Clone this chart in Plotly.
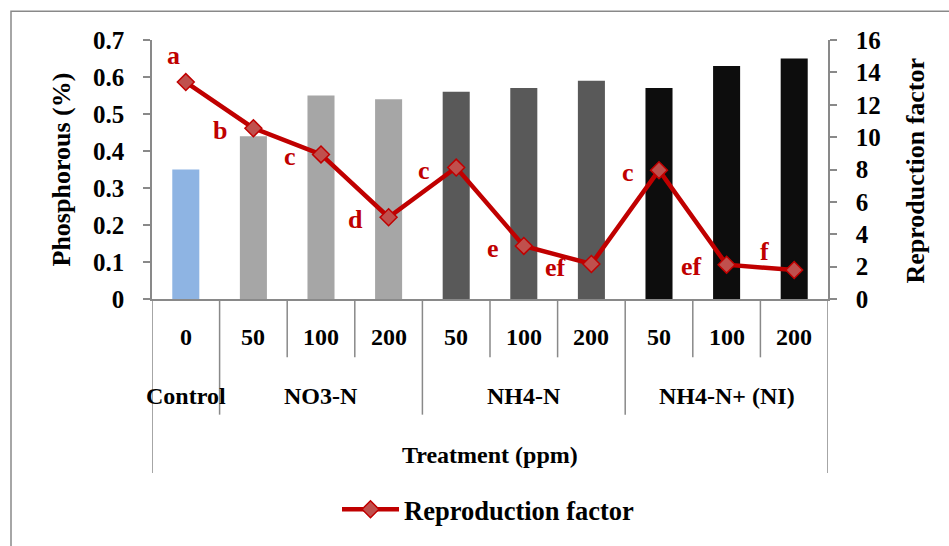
import plotly.graph_objects as go

# ---------------- data ----------------
groups = ["Control", "NO3-N", "NO3-N", "NO3-N", "NH4-N", "NH4-N", "NH4-N",
          "NH4-N+ (NI)", "NH4-N+ (NI)", "NH4-N+ (NI)"]
doses = ["0", "50", "100", "200", "50", "100", "200", "50", "100", "200"]
phosphorus = [0.35, 0.44, 0.55, 0.54, 0.56, 0.57, 0.59, 0.57, 0.63, 0.65]
reproduction = [13.4, 10.55, 8.93, 5.05, 8.12, 3.28, 2.16, 7.96, 2.12, 1.79]
letters = ["a", "b", "c", "d", "c", "e", "ef", "c", "ef", "f"]

# ---------------- styles ----------------
group_colors = {"Control": "#8EB4E3", "NO3-N": "#A6A6A6",
                "NH4-N": "#595959", "NH4-N+ (NI)": "#0D0D0D"}
letter_shift = [(-12, 27), (-33, -2), (-31, -2), (-33, -2), (-32, -3),
                (-31, -3), (-36, -3), (-31, -2), (-35, -2), (-30, 19)]
FONT = "Liberation Serif, Times New Roman, serif"
AXIS_COLOR = "#898989"
RED = "#C00000"

W, H = 949, 546
PL, PR, PT, PB = 152, 828, 40, 302


def fx(px):
    return (px - PL) / (PR - PL)


def fy(py):
    return (PB - py) / (PB - PT)


x_idx = list(range(len(doses)))

fig = go.Figure()
fig.add_trace(go.Bar(
    x=x_idx, y=phosphorus,
    marker=dict(color=[group_colors[g] for g in groups], line=dict(width=0)),
    showlegend=False, name="Phosphorous",
))
fig.add_trace(go.Scatter(
    x=x_idx, y=reproduction, yaxis="y2", mode="lines+markers",
    name="Reproduction factor",
    line=dict(color=RED, width=4.5),
    marker=dict(symbol="diamond", size=13, color="#C0504D",
                line=dict(color=RED, width=1.5)),
    cliponaxis=False,
))

annotations = []
# significance letters
for i, (lab, val) in enumerate(zip(letters, reproduction)):
    dx, dy = letter_shift[i]
    annotations.append(dict(
        x=i, y=val, xref="x", yref="y2", text=lab, showarrow=False,
        xshift=dx, yshift=dy, xanchor="center", yanchor="middle",
        font=dict(family=FONT, size=26, color=RED, weight="bold")))
# dose labels
for i, d in enumerate(doses):
    annotations.append(dict(
        x=i, y=fy(340), xref="x", yref="paper", text=d, showarrow=False,
        xanchor="center", yanchor="middle",
        font=dict(family=FONT, size=24, color="black", weight="bold")))
# group labels
seen = []
for g in groups:
    if g not in seen:
        seen.append(g)
for g in seen:
    idx = [i for i, gg in enumerate(groups) if gg == g]
    annotations.append(dict(
        x=sum(idx) / len(idx), y=fy(400), xref="x", yref="paper", text=g,
        showarrow=False, xanchor="center", yanchor="middle",
        font=dict(family=FONT, size=24, color="black", weight="bold")))
# axis titles
annotations.append(dict(
    x=0.5, y=fy(460), xref="paper", yref="paper", text="Treatment (ppm)",
    showarrow=False, xanchor="center", yanchor="middle",
    font=dict(family=FONT, size=24, color="black", weight="bold")))
annotations.append(dict(
    x=fx(61), y=0.5, xref="paper", yref="paper", text="Phosphorous (%)",
    showarrow=False, xanchor="center", yanchor="middle", textangle=-90,
    font=dict(family=FONT, size=26, color="black", weight="bold")))
annotations.append(dict(
    x=fx(915), y=fy(172), xref="paper", yref="paper", text="Reproduction factor",
    showarrow=False, xanchor="center", yanchor="middle", textangle=-90,
    font=dict(family=FONT, size=26, color="black", weight="bold")))

shapes = []
n = len(doses)
for k in range(n + 1):
    b = k - 0.5
    if k == 0 or k == n:
        bottom = 478
    elif groups[k] != groups[k - 1]:
        bottom = 419
    else:
        bottom = 361
    shapes.append(dict(type="line", xref="x", yref="paper", x0=b, x1=b,
                       y0=0, y1=fy(bottom),
                       line=dict(color=AXIS_COLOR, width=1.5)))
# outer chart border (left & top visible)
shapes.append(dict(type="rect", xref="paper", yref="paper",
                   x0=fx(11), x1=fx(990), y0=fy(11), y1=fy(600),
                   line=dict(color=AXIS_COLOR, width=1.5), layer="below"))

fig.update_layout(
    width=W, height=H,
    margin=dict(l=PL, r=W - PR, t=PT, b=H - PB, pad=0),
    paper_bgcolor="white", plot_bgcolor="white",
    bargap=0.6,
    xaxis=dict(range=[-0.5, n - 0.5], showticklabels=False, ticks="",
               showgrid=False, zeroline=False, showline=True,
               linecolor=AXIS_COLOR, linewidth=1.5, fixedrange=True),
    yaxis=dict(range=[0, 0.7], dtick=0.1, tick0=0, showgrid=False,
               zeroline=False, showline=True, linecolor=AXIS_COLOR,
               linewidth=1.5, ticks="outside", ticklen=7,
               tickcolor=AXIS_COLOR, tickwidth=1.5, ticklabelstandoff=14,
               tickfont=dict(family=FONT, size=25, color="black",
                             weight="bold")),
    yaxis2=dict(range=[0, 16], dtick=2, tick0=0, overlaying="y",
                side="right", showgrid=False, zeroline=False, showline=True,
                linecolor=AXIS_COLOR, linewidth=1.5, ticks="outside",
                ticklen=7, tickcolor=AXIS_COLOR, tickwidth=1.5,
                ticklabelstandoff=14,
                tickfont=dict(family=FONT, size=25, color="black",
                              weight="bold")),
    showlegend=True,
    legend=dict(orientation="h", x=fx(337), y=fy(515), xanchor="left",
                yanchor="middle", bgcolor="rgba(0,0,0,0)",
                font=dict(family=FONT, size=26.5, color="black",
                          weight="bold"),
                itemwidth=57),
    annotations=annotations,
    shapes=shapes,
)

fig.write_html("out.html")
